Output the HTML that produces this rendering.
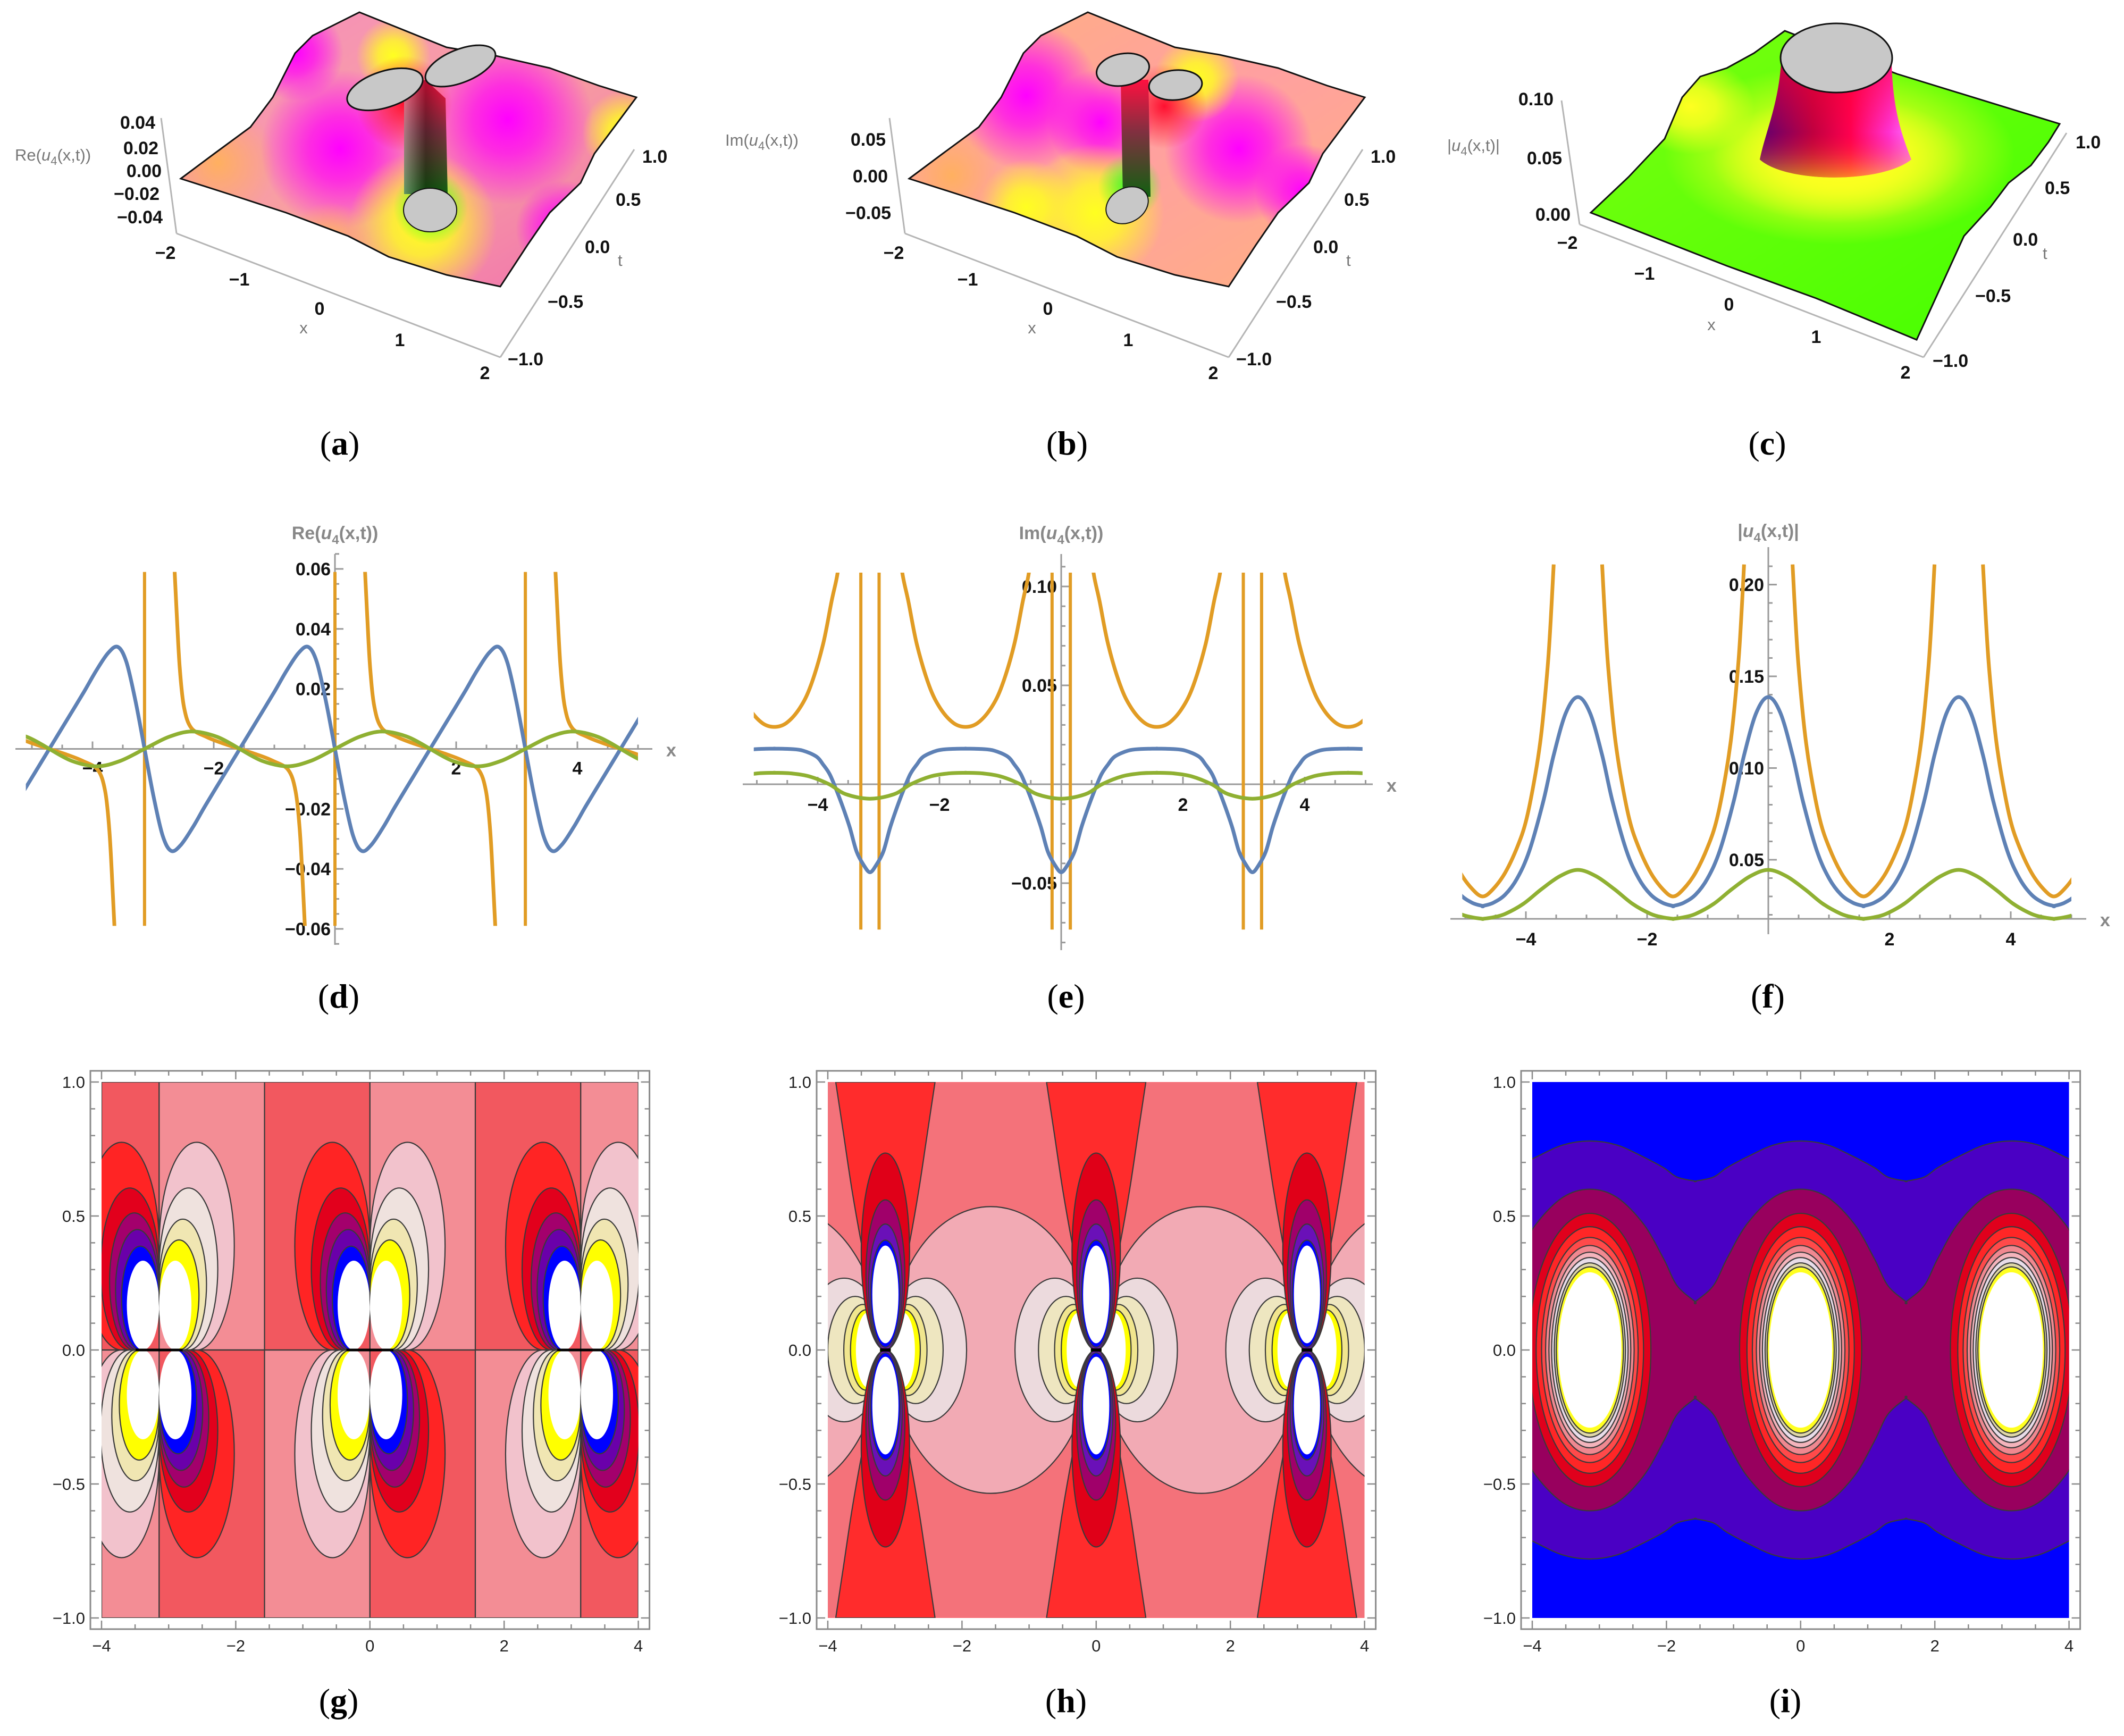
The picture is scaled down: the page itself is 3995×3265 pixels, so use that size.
<!DOCTYPE html>
<html><head><meta charset="utf-8"><title>u4 figure</title>
<style>html,body{margin:0;padding:0;background:#fff}svg{display:block}</style></head>
<body>
<svg id="fig" xmlns="http://www.w3.org/2000/svg" width="3995" height="3265" viewBox="0 0 3995 3265" font-family="'Liberation Sans', sans-serif">
<defs>
 <linearGradient id="aBase" x1="0" y1="0" x2="1" y2="1"><stop offset="0" stop-color="#f58cc0"/><stop offset="0.5" stop-color="#f8a0a0"/><stop offset="1" stop-color="#f070b0"/></linearGradient>
 <radialGradient id="gMag"><stop offset="0" stop-color="#ff00ff"/><stop offset="0.4" stop-color="#ff10f0" stop-opacity="0.8"/><stop offset="1" stop-color="#ff00ff" stop-opacity="0"/></radialGradient>
 <radialGradient id="gYel"><stop offset="0" stop-color="#ffff20"/><stop offset="0.4" stop-color="#ffff20" stop-opacity="0.8"/><stop offset="1" stop-color="#ffff20" stop-opacity="0"/></radialGradient>
 <radialGradient id="gRed"><stop offset="0" stop-color="#ff1030"/><stop offset="1" stop-color="#ff1030" stop-opacity="0"/></radialGradient>
 <radialGradient id="gOra"><stop offset="0" stop-color="#ffb060"/><stop offset="1" stop-color="#ffb060" stop-opacity="0"/></radialGradient>
 <radialGradient id="gGrn"><stop offset="0" stop-color="#30ff20"/><stop offset="1" stop-color="#30ff20" stop-opacity="0"/></radialGradient>
 <linearGradient id="stemA" x1="0" y1="0" x2="0" y2="1"><stop offset="0" stop-color="#ff1040"/><stop offset="0.45" stop-color="#803040"/><stop offset="1" stop-color="#106010"/></linearGradient>
 <linearGradient id="stemA2" x1="0" y1="0" x2="1" y2="0"><stop offset="0" stop-color="#ffffff" stop-opacity="0.35"/><stop offset="0.5" stop-color="#000" stop-opacity="0.3"/><stop offset="1" stop-color="#000" stop-opacity="0"/></linearGradient>
 <linearGradient id="bBase" x1="0" y1="0" x2="1" y2="1"><stop offset="0" stop-color="#ffb080"/><stop offset="0.5" stop-color="#ffa0a0"/><stop offset="1" stop-color="#ffb080"/></linearGradient>
 <linearGradient id="cBase" x1="0" y1="0" x2="1" y2="1"><stop offset="0" stop-color="#7aff10"/><stop offset="1" stop-color="#44ff00"/></linearGradient>
 <linearGradient id="cStem" x1="0" y1="0" x2="1" y2="0"><stop offset="0" stop-color="#600070"/><stop offset="0.35" stop-color="#c00040"/><stop offset="0.6" stop-color="#ff0050"/><stop offset="0.85" stop-color="#ff30d0"/><stop offset="1" stop-color="#ff70ff"/></linearGradient>
 <linearGradient id="cStemV" x1="0" y1="0" x2="0" y2="1"><stop offset="0" stop-color="#ff0030" stop-opacity="0.6"/><stop offset="0.6" stop-color="#ff0030" stop-opacity="0"/><stop offset="1" stop-color="#ffff00" stop-opacity="0.5"/></linearGradient>
</defs>

<!-- ============ Panel a ============ -->
<g>
 <clipPath id="clipA"><path d="M340,336 L403,289 L471,239 L513,183 L555,100 L588,67 L676,23 L840,89 L924,103 L1034,128 L1126,161 L1197,183 L1168,222 L1118,289 L1092,344 L1034,400 L992,461 L941,539 L840,517 L731,483 L655,444 L538,400 L437,367 Z"/></clipPath>
 <path d="M340,336 L403,289 L471,239 L513,183 L555,100 L588,67 L676,23 L840,89 L924,103 L1034,128 L1126,161 L1197,183 L1168,222 L1118,289 L1092,344 L1034,400 L992,461 L941,539 L840,517 L731,483 L655,444 L538,400 L437,367 Z" fill="url(#aBase)"/>
 <g clip-path="url(#clipA)">
  <circle cx="410" cy="306" r="110" fill="url(#gOra)"/>
  <circle cx="640" cy="280" r="150" fill="url(#gMag)"/>
  <circle cx="955" cy="225" r="160" fill="url(#gMag)"/>
  <circle cx="556" cy="100" r="90" fill="url(#gMag)"/>
  <circle cx="1060" cy="430" r="90" fill="url(#gMag)"/>
  <circle cx="795" cy="425" r="140" fill="url(#gYel)"/>
  <circle cx="1175" cy="250" r="80" fill="url(#gYel)"/>
  <circle cx="740" cy="105" r="70" fill="url(#gYel)"/>
  <circle cx="760" cy="195" r="90" fill="url(#gRed)"/>
  <circle cx="810" cy="390" r="70" fill="url(#gGrn)"/>
  <circle cx="620" cy="460" r="80" fill="url(#gOra)"/>
 </g>
 <path d="M340,336 L403,289 L471,239 L513,183 L555,100 L588,67 L676,23 L840,89 L924,103 L1034,128 L1126,161 L1197,183 L1168,222 L1118,289 L1092,344 L1034,400 L992,461 L941,539 L840,517 L731,483 L655,444 L538,400 L437,367 Z" fill="none" stroke="#111" stroke-width="3"/>
 <path d="M760,165 L800,150 L838,185 L842,365 L760,365 Z" fill="url(#stemA)"/>
 <path d="M760,165 L800,150 L838,185 L842,365 L760,365 Z" fill="url(#stemA2)"/>
 <ellipse cx="724" cy="168" rx="74" ry="34" transform="rotate(-18 724 168)" fill="#c8c8c8" stroke="#111" stroke-width="3"/>
 <ellipse cx="866" cy="124" rx="70" ry="31" transform="rotate(-22 866 124)" fill="#c8c8c8" stroke="#111" stroke-width="3"/>
 <ellipse cx="809" cy="395" rx="50" ry="41" fill="#c8c8c8" stroke="#111" stroke-width="2"/>
 <g stroke="#b5b5b5" stroke-width="3" fill="none">
  <line x1="303" y1="222" x2="332" y2="439"/><line x1="332" y1="439" x2="941" y2="672"/><line x1="941" y1="672" x2="1193" y2="281"/>
 </g>
 <g font-weight="bold" font-size="34" fill="#111" text-anchor="end">
  <text x="292" y="242">0.04</text>
  <text x="298" y="290">0.02</text>
  <text x="304" y="333">0.00</text>
  <text x="300" y="376">−0.02</text>
  <text x="306" y="420">−0.04</text>
 </g>
 <g font-weight="bold" font-size="34" fill="#111" text-anchor="middle">
  <text x="311" y="487">−2</text>
  <text x="450" y="537">−1</text>
  <text x="601" y="592">0</text>
  <text x="752" y="651">1</text>
  <text x="912" y="713">2</text>
 </g>
 <g font-weight="bold" font-size="34" fill="#111" text-anchor="start">
  <text x="1208" y="306">1.0</text>
  <text x="1158" y="387">0.5</text>
  <text x="1100" y="476">0.0</text>
  <text x="1030" y="579">−0.5</text>
  <text x="955" y="687">−1.0</text>
 </g>
 <text x="28" y="302" font-size="31" fill="#777">Re(<tspan font-style="italic">u</tspan><tspan font-size="22" dy="8">4</tspan><tspan dy="-8">(x,t))</tspan></text>
 <text x="571" y="627" font-size="31" fill="#777" text-anchor="middle">x</text>
 <text x="1162" y="500" font-size="31" fill="#777">t</text>
</g>

<!-- ============ Panel b ============ -->
<g transform="translate(1370,0)">
 <clipPath id="clipB"><path d="M340,336 L403,289 L471,239 L513,183 L555,100 L588,67 L676,23 L840,89 L924,103 L1034,128 L1126,161 L1197,183 L1168,222 L1118,289 L1092,344 L1034,400 L992,461 L941,539 L840,517 L731,483 L655,444 L538,400 L437,367 Z"/></clipPath>
 <path d="M340,336 L403,289 L471,239 L513,183 L555,100 L588,67 L676,23 L840,89 L924,103 L1034,128 L1126,161 L1197,183 L1168,222 L1118,289 L1092,344 L1034,400 L992,461 L941,539 L840,517 L731,483 L655,444 L538,400 L437,367 Z" fill="url(#bBase)"/>
 <g clip-path="url(#clipB)">
  <circle cx="560" cy="180" r="140" fill="url(#gMag)"/>
  <circle cx="700" cy="230" r="100" fill="url(#gMag)"/>
  <circle cx="960" cy="280" r="140" fill="url(#gMag)"/>
  <circle cx="1080" cy="360" r="90" fill="url(#gMag)"/>
  <circle cx="690" cy="400" r="130" fill="url(#gYel)"/>
  <circle cx="560" cy="390" r="90" fill="url(#gYel)"/>
  <circle cx="880" cy="150" r="80" fill="url(#gYel)"/>
  <circle cx="820" cy="200" r="80" fill="url(#gRed)"/>
  <circle cx="755" cy="350" r="60" fill="url(#gGrn)"/>
  <circle cx="420" cy="330" r="90" fill="url(#gOra)"/>
 </g>
 <path d="M340,336 L403,289 L471,239 L513,183 L555,100 L588,67 L676,23 L840,89 L924,103 L1034,128 L1126,161 L1197,183 L1168,222 L1118,289 L1092,344 L1034,400 L992,461 L941,539 L840,517 L731,483 L655,444 L538,400 L437,367 Z" fill="none" stroke="#111" stroke-width="3"/>
 <path d="M738,150 L790,150 L794,370 L742,370 Z" fill="url(#stemA)"/>
 <ellipse cx="742" cy="131" rx="50" ry="30" transform="rotate(-10 742 131)" fill="#c8c8c8" stroke="#111" stroke-width="3"/>
 <ellipse cx="841" cy="160" rx="50" ry="28" transform="rotate(-5 841 160)" fill="#c8c8c8" stroke="#111" stroke-width="3"/>
 <ellipse cx="750" cy="386" rx="42" ry="32" transform="rotate(-30 750 386)" fill="#c8c8c8" stroke="#111" stroke-width="2"/>
 <g stroke="#b5b5b5" stroke-width="3" fill="none">
  <line x1="303" y1="222" x2="332" y2="439"/><line x1="332" y1="439" x2="941" y2="672"/><line x1="941" y1="672" x2="1193" y2="281"/>
 </g>
 <g font-weight="bold" font-size="34" fill="#111" text-anchor="end">
  <text x="296" y="274">0.05</text>
  <text x="300" y="343">0.00</text>
  <text x="306" y="412">−0.05</text>
 </g>
 <g font-weight="bold" font-size="34" fill="#111" text-anchor="middle">
  <text x="311" y="487">−2</text>
  <text x="450" y="537">−1</text>
  <text x="601" y="592">0</text>
  <text x="752" y="651">1</text>
  <text x="912" y="713">2</text>
 </g>
 <g font-weight="bold" font-size="34" fill="#111">
  <text x="1208" y="306">1.0</text>
  <text x="1158" y="387">0.5</text>
  <text x="1100" y="476">0.0</text>
  <text x="1030" y="579">−0.5</text>
  <text x="955" y="687">−1.0</text>
 </g>
 <text x="-6" y="274" font-size="31" fill="#777">Im(<tspan font-style="italic">u</tspan><tspan font-size="22" dy="8">4</tspan><tspan dy="-8">(x,t))</tspan></text>
 <text x="571" y="627" font-size="31" fill="#777" text-anchor="middle">x</text>
 <text x="1162" y="500" font-size="31" fill="#777">t</text>
</g>

<!-- ============ Panel c ============ -->
<g transform="translate(2660,0)">
 <clipPath id="clipC"><path d="M332,400 L403,333 L471,261 L504,183 L538,144 L588,128 L639,100 L697,58 L908,139 L1214,233 L1193,267 L1160,311 L1118,344 L1084,389 L1034,444 L945,639 L756,561 L588,500 Z"/></clipPath>
 <path d="M332,400 L403,333 L471,261 L504,183 L538,144 L588,128 L639,100 L697,58 L908,139 L1214,233 L1193,267 L1160,311 L1118,344 L1084,389 L1034,444 L945,639 L756,561 L588,500 Z" fill="url(#cBase)"/>
 <g clip-path="url(#clipC)">
  <ellipse cx="800" cy="290" rx="330" ry="170" fill="url(#gYel)"/>
  <ellipse cx="800" cy="300" rx="240" ry="120" fill="url(#gYel)"/>
  <ellipse cx="520" cy="200" rx="120" ry="90" fill="url(#gYel)"/>
 </g>
 <path d="M332,400 L403,333 L471,261 L504,183 L538,144 L588,128 L639,100 L697,58 L908,139 L1214,233 L1193,267 L1160,311 L1118,344 L1084,389 L1034,444 L945,639 L756,561 L588,500 Z" fill="none" stroke="#111" stroke-width="3"/>
 <path d="M690,120 C684,200 660,250 650,300 C700,345 880,345 935,300 C915,250 900,200 898,120 Z" fill="url(#cStem)"/>
 <path d="M690,120 C684,200 660,250 650,300 C700,345 880,345 935,300 C915,250 900,200 898,120 Z" fill="url(#cStemV)"/>
 <ellipse cx="794" cy="109" rx="105" ry="65" fill="#c8c8c8" stroke="#111" stroke-width="3"/>
 <g stroke="#b5b5b5" stroke-width="3" fill="none">
  <line x1="277" y1="189" x2="311" y2="422"/><line x1="311" y1="422" x2="958" y2="672"/><line x1="958" y1="672" x2="1227" y2="250"/>
 </g>
 <g font-weight="bold" font-size="34" fill="#111" text-anchor="end">
  <text x="262" y="198">0.10</text>
  <text x="278" y="309">0.05</text>
  <text x="294" y="415">0.00</text>
 </g>
 <g font-weight="bold" font-size="34" fill="#111" text-anchor="middle">
  <text x="288" y="468">−2</text>
  <text x="433" y="526">−1</text>
  <text x="592" y="584">0</text>
  <text x="756" y="645">1</text>
  <text x="924" y="712">2</text>
 </g>
 <g font-weight="bold" font-size="34" fill="#111">
  <text x="1244" y="279">1.0</text>
  <text x="1186" y="365">0.5</text>
  <text x="1126" y="462">0.0</text>
  <text x="1055" y="568">−0.5</text>
  <text x="975" y="690">−1.0</text>
 </g>
 <text x="62" y="284" font-size="31" fill="#777">|<tspan font-style="italic">u</tspan><tspan font-size="22" dy="8">4</tspan><tspan dy="-8">(x,t)|</tspan></text>
 <text x="559" y="621" font-size="31" fill="#777" text-anchor="middle">x</text>
 <text x="1182" y="487" font-size="31" fill="#777">t</text>
</g>

<!-- captions -->
<g font-family="'Liberation Serif', serif" font-size="64" fill="#000" text-anchor="middle">
 <text x="639" y="855">(<tspan font-weight="bold">a</tspan>)</text>
 <text x="2007" y="855">(<tspan font-weight="bold">b</tspan>)</text>
 <text x="3324" y="855">(<tspan font-weight="bold">c</tspan>)</text>
 <text x="637" y="1895">(<tspan font-weight="bold">d</tspan>)</text>
 <text x="2005" y="1895">(<tspan font-weight="bold">e</tspan>)</text>
 <text x="3325" y="1895">(<tspan font-weight="bold">f</tspan>)</text>
 <text x="637" y="3220">(<tspan font-weight="bold">g</tspan>)</text>
 <text x="2005" y="3220">(<tspan font-weight="bold">h</tspan>)</text>
 <text x="3358" y="3220">(<tspan font-weight="bold">i</tspan>)</text>
</g>
</svg>

<script>
// ---------------- data ----------------
const PI = Math.PI;
const periodCenters = [-2*PI, -PI, 0, PI, 2*PI];
const halfCenters = [-3*PI/2, -PI/2, PI/2, 3*PI/2];

// (d) Re
const reBlueOffs = [-1.571,-1.3,-1.0,-0.8,-0.6,-0.44,-0.3,-0.15,0,0.15,0.3,0.44,0.6,0.8,1.0,1.3,1.571];
const reBlueVals = [0,0.009,0.019,0.026,0.032,0.034,0.029,0.016,0,-0.016,-0.029,-0.034,-0.032,-0.026,-0.019,-0.009,0];
const reGreenOffs = [-1.571,-1.2,-0.785,-0.4,0,0.4,0.785,1.2,1.571];
const reGreenVals = [0,-0.004,-0.0058,-0.004,0,0.004,0.0058,0.004,0];
const reOrangeOffs = [-1.1,-1.04,-0.99,-0.92,-0.8,-0.55,-0.3,0,0.3,0.55,0.8,0.92,0.99,1.04,1.1];
const reOrangeVals = [0.07,0.045,0.027,0.014,0.007,0.004,0.002,0,-0.002,-0.004,-0.007,-0.014,-0.027,-0.045,-0.07];
const rePoles = [-PI, 0, PI];
const reYTicks = [0.06,0.04,0.02,-0.02,-0.04,-0.06];
const reYTickLabels = ['0.06','0.04','0.02','−0.02','−0.04','−0.06'];

// (e) Im
const imBlueOffs = [-1.571,-1.3,-1.1,-0.88,-0.77,-0.66,-0.55,-0.44,-0.33,-0.22,-0.1,0,0.1,0.22,0.33,0.44,0.55,0.66,0.77,0.88,1.1,1.3,1.571];
const imBlueVals = [0.018,0.0178,0.017,0.014,0.010,0.005,-0.003,-0.012,-0.022,-0.034,-0.041,-0.0445,-0.041,-0.034,-0.022,-0.012,-0.003,0.005,0.010,0.014,0.017,0.0178,0.018];
const imGreenOffs = [-1.571,-1.3,-1.0,-0.67,-0.4,0,0.4,0.67,1.0,1.3,1.571];
const imGreenVals = [0.0058,0.0055,0.004,0,-0.005,-0.0073,-0.005,0,0.004,0.0055,0.0058];
const imOrangeOffs = [-1.1,-1.04,-0.94,-0.8,-0.6,-0.42,-0.2,0,0.2,0.42,0.6,0.8,0.94,1.04,1.1];
const imOrangeVals = [0.125,0.107,0.0925,0.0707,0.05,0.0386,0.031,0.029,0.031,0.0386,0.05,0.0707,0.0925,0.107,0.125];
const imPoles = [-PI-0.15, -PI+0.15, -0.15, 0.15, PI-0.15, PI+0.15];
const imYTicks = [0.10,0.05,-0.05];
const imYTickLabels = ['0.10','0.05','−0.05'];

// (f) Abs
const abBlueOffs = [-1.571,-1.4,-1.2,-1.0,-0.8,-0.57,-0.4,-0.2,0,0.2,0.4,0.57,0.8,1.0,1.2,1.4,1.571];
const abBlueVals = [0.0248,0.0265,0.031,0.04,0.055,0.082,0.107,0.13,0.1387,0.13,0.107,0.082,0.055,0.04,0.031,0.0265,0.0248];
const abGreenOffs = [-1.571,-1.4,-1.2,-0.9,-0.6,-0.3,0,0.3,0.6,0.9,1.2,1.4,1.571];
const abGreenVals = [0.0178,0.0186,0.0205,0.026,0.034,0.041,0.0445,0.041,0.034,0.026,0.0205,0.0186,0.0178];
const abOrangeOffs = [-1.171,-1.121,-1.071,-0.971,-0.871,-0.721,-0.571,-0.371,-0.171,0,0.171,0.371,0.571,0.721,0.871,0.971,1.071,1.121,1.171];
const abOrangeVals = [0.211,0.18,0.155,0.12,0.097,0.072,0.057,0.043,0.034,0.030,0.034,0.043,0.057,0.072,0.097,0.12,0.155,0.18,0.211];
const abYTicks = [0.20,0.15,0.10,0.05];
const abYTickLabels = ['0.20','0.15','0.10','0.05'];

const xTicks = [-4,-2,2,4];
const xTickLabels = ['−4','−2','2','4'];

// contour data
const contourXTicks = [-4,-2,0,2,4];
const contourXTickLabels = ['−4','−2','0','2','4'];
const contourYTicks = [1,0.5,0,-0.5,-1];
const contourYTickLabels = ['1.0','0.5','0.0','−0.5','−1.0'];
const lobeCenters = [-PI, 0, PI];
// (g)
const gStripeEdges = [-4,-PI,-PI/2,0,PI/2,PI,4];
const gTopColors = ['#f2585f','#f38d95','#f2585f','#f38d95','#f2585f','#f38d95'];
const gBotColors = ['#f38d95','#f2585f','#f38d95','#f2585f','#f38d95','#f2585f'];
const gBlueSizes = [1,0.78,0.66,0.58,0.5,0.43];
const gBlueColors = ['#ff2424','#e2001c','#a3006c','#6a00aa','#0000ff','#ffffff'];
const gYelSizes = [1,0.78,0.63,0.53,0.43];
const gYelColors = ['#f2c2cc','#efe2de','#f0e6b2','#ffff00','#ffffff'];
const gLobeW = 1.12, gLobeH = 0.775;
// (h)
const hRedY = [1,0.8,0.6,0.4,0.2,0,-0.2,-0.4,-0.6,-0.8,-1];
const hRedDX = [0.74,0.62,0.5,0.36,0.2,0.05,0.2,0.36,0.5,0.62,0.74];
const hPinkCenters = [-3*PI/2,-PI/2,PI/2,3*PI/2];
const hPinkRx = 1.5, hPinkRy = 0.535;
const hSideX0 = [0.02,0.04,0.05,0.06,0.08];
const hSideX1 = [1.21,0.86,0.62,0.52,0.44];
const hSideRy = [0.268,0.2,0.17,0.15,0.14];
const hSideColors = ['#ecdadd','#eee6c0','#f1e68e','#ffff00','#ffffff'];
const hVertSx = [0.36,0.29,0.25,0.22,0.195];
const hVertY0 = [0,0,0,0.01,0.025];
const hVertY1 = [0.735,0.56,0.47,0.41,0.39];
const hVertColors = ['#e00018','#a0006a','#6a10b8','#0000ff','#ffffff'];
// (i)
const iBandOffs = [-1.571,-1.3,-1.1,-0.8,-0.4,0,0.4,0.8,1.1,1.3,1.571];
const iPurpleTop = [0.63,0.645,0.68,0.72,0.765,0.78,0.765,0.72,0.68,0.645,0.63];
const iMagentaTop = [0.18,0.24,0.34,0.47,0.57,0.60,0.57,0.47,0.34,0.24,0.18];
const iRingSx = [0.91,0.80,0.72,0.66,0.61,0.57,0.53,0.50,0.47];
const iRingSy = [0.51,0.46,0.42,0.39,0.365,0.345,0.325,0.31,0.29];
const iRingColors = ['#e0001c','#ff2626','#ff4a4a','#f08890','#f4b4bc','#e8dce8','#e0d8a8','#ffff20','#ffffff'];

// ---------------- helpers ----------------
const NS = 'http://www.w3.org/2000/svg';
const svg = document.getElementById('fig');
function mk(tag, attrs, parent){ const e=document.createElementNS(NS,tag); for(const k in attrs) e.setAttribute(k, attrs[k]); (parent||svg).appendChild(e); return e; }
function smooth(pts){
  if(pts.length<2) return '';
  let d='M'+pts[0][0].toFixed(1)+','+pts[0][1].toFixed(1);
  for(let i=0;i<pts.length-1;i++){
    const p0=pts[i-1]||pts[i], p1=pts[i], p2=pts[i+1], p3=pts[i+2]||p2;
    const c1=[p1[0]+(p2[0]-p0[0])/6, p1[1]+(p2[1]-p0[1])/6];
    const c2=[p2[0]-(p3[0]-p1[0])/6, p2[1]-(p3[1]-p1[1])/6];
    d+='C'+c1[0].toFixed(1)+','+c1[1].toFixed(1)+' '+c2[0].toFixed(1)+','+c2[1].toFixed(1)+' '+p2[0].toFixed(1)+','+p2[1].toFixed(1);
  }
  return d;
}
function tile(centers, offs, vals){
  const pts=[];
  centers.forEach(c=>offs.forEach((o,i)=>{ const x=c+o; if(pts.length && Math.abs(pts[pts.length-1][0]-x)<1e-6) return; pts.push([x, vals[i]]); }));
  return pts;
}
const COL = {blue:'#5e81b5', orange:'#e19c24', green:'#8fb032'};

function plot2d(cfg){
  const g = mk('g', {});
  
  
  const X = u => cfg.x0 + cfg.sx*u, Y = v => cfg.y0 - cfg.sy*v;
  const cid = cfg.name+'-clip';
  const cp = mk('clipPath', {id:cid}, g);
  mk('rect', {x:X(cfg.xmin), y:Y(cfg.clipTop), width:X(cfg.xmax)-X(cfg.xmin), height:Y(cfg.clipBot)-Y(cfg.clipTop)}, cp);
  const ax = mk('g', {stroke:'#9a9a9a','stroke-width':3}, g);
  const xl = mk('line', {x1:cfg.axL, y1:Y(cfg.axisV), x2:cfg.axR, y2:Y(cfg.axisV)}, ax);
  
  
  const yl = mk('line', {x1:X(0), y1:cfg.axT, x2:X(0), y2:cfg.axB}, ax);
  
  
  for(let u=-5; u<=5.001; u+=0.5){
    const major = Math.abs(u%2)<1e-6 && u!==0;
    const len = major?14:8;
    const t = mk('line', {x1:X(u), y1:Y(cfg.axisV), x2:X(u), y2:Y(cfg.axisV)-len}, ax);
    
    
  }
  for(let v=cfg.minorStart; v<=cfg.minorEnd+1e-9; v+=cfg.minorStep){
    const t = mk('line', {x1:X(0), y1:Y(v), x2:X(0)+8, y2:Y(v)}, ax);
    
    
  }
  cfg.yTicks.forEach((v,i)=>{
    const t = mk('line', {x1:X(0), y1:Y(v), x2:X(0)+16, y2:Y(v)}, ax);
    
    
    const tx = mk('text', {x:X(0)-8, y:Y(v)+12, 'text-anchor':'end', 'font-size':34, 'font-weight':'bold', fill:'#111'}, g);
    
    
    tx.textContent = cfg.yTickLabels[i];
  });
  xTicks.forEach((u,i)=>{
    const tx = mk('text', {x:X(u), y:Y(cfg.axisV)+cfg.xLabDy, 'text-anchor':'middle', 'font-size':34, 'font-weight':'bold', fill:'#111'}, g);
    
    
    tx.textContent = xTickLabels[i];
  });
  const xt = mk('text', {x:cfg.axR+26, y:Y(cfg.axisV)+14, 'font-size':34, 'font-weight':'bold', fill:'#888'}, g);
  
  
  xt.textContent = 'x';
  const yt = mk('text', {x:X(0), y:cfg.titleY, 'text-anchor':'middle', 'font-size':34, 'font-weight':'bold', fill:'#888'}, g);
  
  
  yt.innerHTML = cfg.titleHTML;
  const sg = mk('g', {'clip-path':'url(#'+cid+')', fill:'none', 'stroke-width':7, 'stroke-linejoin':'round'}, g);
  cfg.series.forEach(s=>{
    if(s.kind==='tile'){
      const pts = tile(s.centers, s.offs, s.vals).map(p=>[X(p[0]), Y(p[1])]);
      const p = mk('path', {d:smooth(pts), stroke:s.color}, sg);
      
      
    } else if(s.kind==='branches'){
      s.centers.forEach(c=>{
        const pts = s.offs.map((o,i)=>[X(c+o), Y(s.vals[i])]);
        const p = mk('path', {d:smooth(pts), stroke:s.color}, sg);
        
        
      });
    } else if(s.kind==='poles'){
      s.xs.forEach(x=>{
        const l = mk('line', {x1:X(x), y1:Y(cfg.clipTop), x2:X(x), y2:Y(cfg.clipBot), stroke:s.color, 'stroke-width':6}, sg);
        
        
      });
    }
  });
}

const T = (p)=>p+'(<tspan font-style="italic">u</tspan><tspan font-size="24" dy="9">4</tspan><tspan dy="-9">(x,t))</tspan>';

plot2d({name:'plot-d-re', x0:630, sx:114, y0:1408.5, sy:5642, xmin:-5.1, xmax:5.0, clipTop:0.059, clipBot:-0.059,
  axisV:0, axL:29, axR:1227, axT:1042, axB:1777, minorStart:-0.065, minorEnd:0.065, minorStep:0.005,
  yTicks:reYTicks, yTickLabels:reYTickLabels, xLabDy:48, titleY:1014, titleHTML:T('Re'),
  series:[
    {kind:'branches', name:'re-orange-curve', centers:halfCenters, offs:reOrangeOffs, vals:reOrangeVals, color:COL.orange},
    {kind:'poles', name:'re-orange-jump', xs:rePoles, color:COL.orange},
    {kind:'tile', name:'re-blue-curve', centers:periodCenters, offs:reBlueOffs, vals:reBlueVals, color:COL.blue},
    {kind:'tile', name:'re-green-curve', centers:periodCenters, offs:reGreenOffs, vals:reGreenVals, color:COL.green}
  ]});
plot2d({name:'plot-e-im', x0:1996, sx:114.5, y0:1475, sy:3720, xmin:-5.05, xmax:4.95, clipTop:0.107, clipBot:-0.0735,
  axisV:0, axL:1397, axR:2582, axT:1042, axB:1787, minorStart:-0.08, minorEnd:0.11, minorStep:0.01,
  yTicks:imYTicks, yTickLabels:imYTickLabels, xLabDy:50, titleY:1014, titleHTML:T('Im'),
  series:[
    {kind:'branches', name:'im-orange-curve', centers:halfCenters, offs:imOrangeOffs, vals:imOrangeVals, color:COL.orange},
    {kind:'poles', name:'im-orange-jump', xs:imPoles, color:COL.orange},
    {kind:'tile', name:'im-blue-curve', centers:periodCenters, offs:imBlueOffs, vals:imBlueVals, color:COL.blue},
    {kind:'tile', name:'im-green-curve', centers:periodCenters, offs:imGreenOffs, vals:imGreenVals, color:COL.green}
  ]});
plot2d({name:'plot-f-abs', x0:3326, sx:114, y0:1789.5, sy:3450, xmin:-5.05, xmax:5.0, clipTop:0.211, clipBot:0.0,
  axisV:0.0178, axL:2728, axR:3924, axT:1029, axB:1757, minorStart:0.02, minorEnd:0.21, minorStep:0.01,
  yTicks:abYTicks, yTickLabels:abYTickLabels, xLabDy:50, titleY:1010, titleHTML:'|<tspan font-style="italic">u</tspan><tspan font-size="24" dy="9">4</tspan><tspan dy="-9">(x,t)|</tspan>',
  series:[
    {kind:'branches', name:'abs-orange-curve', centers:[-2*PI,-PI,0,PI,2*PI].map(c=>c+PI/2), offs:abOrangeOffs, vals:abOrangeVals, color:COL.orange},
    {kind:'tile', name:'abs-blue-curve', centers:periodCenters, offs:abBlueOffs, vals:abBlueVals, color:COL.blue},
    {kind:'tile', name:'abs-green-curve', centers:periodCenters, offs:abGreenOffs, vals:abGreenVals, color:COL.green}
  ]});

// ---------- contour helpers ----------
function contourFrame(name, x0){
  const sx=126.2, sy=504;
  const X=u=>x0+(u+4)*sx, Y=v=>2539-v*sy;
  const g = mk('g', {});
  
  
  const cid=name+'-clip';
  const cp=mk('clipPath',{id:cid},g);
  mk('rect',{x:X(-4),y:Y(1),width:X(4)-X(-4),height:Y(-1)-Y(1)},cp);
  const body=mk('g',{'clip-path':'url(#'+cid+')', stroke:'#3a3a3a','stroke-width':2.2},g);
  return {g, body, X, Y, sx, sy};
}
function contourAxes(c){
  const {g,X,Y}=c;
  const L=X(-4)-21, R=X(4)+21, Tp=Y(1)-21, B=Y(-1)+21;
  const fr=mk('rect',{x:L,y:Tp,width:R-L,height:B-Tp,fill:'none',stroke:'#8a8a8a','stroke-width':3},g);
  
  
  const tk=mk('g',{stroke:'#8a8a8a','stroke-width':2.5},g);
  for(let u=-4;u<=4.001;u+=0.5){
    const len=(Math.abs(u%2)<1e-6)?16:9;
    mk('line',{x1:X(u),y1:B,x2:X(u),y2:B-len},tk);
    mk('line',{x1:X(u),y1:Tp,x2:X(u),y2:Tp+len},tk);
  }
  for(let k=-10;k<=10;k++){
    const v=k/10, len=(k%5===0)?16:9;
    mk('line',{x1:L,y1:Y(v),x2:L+len,y2:Y(v)},tk);
    mk('line',{x1:R,y1:Y(v),x2:R-len,y2:Y(v)},tk);
  }
  contourXTicks.forEach((u,i)=>{
    const t=mk('text',{x:X(u),y:B+42,'text-anchor':'middle','font-size':31,fill:'#222'},g);
    
    
    t.textContent=contourXTickLabels[i];
  });
  contourYTicks.forEach((v,i)=>{
    const t=mk('text',{x:L-10,y:Y(v)+11,'text-anchor':'end','font-size':31,fill:'#222'},g);
    
    
    t.textContent=contourYTickLabels[i];
  });
}
function ell(c, cx, cy, rx, ry, fill, name){
  const e=mk('ellipse',{cx:c.X(cx),cy:c.Y(cy),rx:rx*c.sx,ry:ry*c.sy,fill:fill},c.body);
  
  
  if(fill==='#ffffff') e.setAttribute('stroke','none');
  return e;
}

// ---------- (g) ----------
const cg = contourFrame('contour-g-re', 191);
for(let i=0;i<gTopColors.length;i++){
  const a=gStripeEdges[i], b=gStripeEdges[i+1];
  const r1=mk('rect',{x:cg.X(a),y:cg.Y(1),width:cg.X(b)-cg.X(a),height:cg.Y(0)-cg.Y(1),fill:gTopColors[i]},cg.body);
  
  
  const r2=mk('rect',{x:cg.X(a),y:cg.Y(0),width:cg.X(b)-cg.X(a),height:cg.Y(-1)-cg.Y(0),fill:gBotColors[i]},cg.body);
  
  
}
const gl=mk('line',{x1:cg.X(-4),y1:cg.Y(0),x2:cg.X(4),y2:cg.Y(0)},cg.body);


lobeCenters.forEach(c=>{
  const quads=[[-1,1,'b'],[1,1,'y'],[-1,-1,'y'],[1,-1,'b']];
  quads.forEach(q=>{
    const sizes=q[2]==='b'?gBlueSizes:gYelSizes, cols=q[2]==='b'?gBlueColors:gYelColors;
    sizes.forEach((s,i)=>{
      ell(cg, c+q[0]*gLobeW*s/2, q[1]*gLobeH*s/2, gLobeW*s/2, gLobeH*s/2, cols[i], 'lobe-ring');
    });
  });
  const k=mk('line',{x1:cg.X(c-0.35),y1:cg.Y(0),x2:cg.X(c+0.35),y2:cg.Y(0),stroke:'#000','stroke-width':5},cg.body);
  
  
});
contourAxes(cg);

// ---------- (h) ----------
const ch = contourFrame('contour-h-im', 1557);
const hbg=mk('rect',{x:ch.X(-4),y:ch.Y(1),width:ch.X(4)-ch.X(-4),height:ch.Y(-1)-ch.Y(1),fill:'#f4727a',stroke:'none'},ch.body);


lobeCenters.forEach(c=>{
  const left=hRedY.map((y,i)=>[ch.X(c-hRedDX[i]),ch.Y(y)]);
  const right=hRedY.map((y,i)=>[ch.X(c+hRedDX[i]),ch.Y(y)]).reverse();
  const p=mk('path',{d:smooth(left)+' L'+right[0][0]+','+right[0][1]+' '+smooth(right).slice(1)+' Z',fill:'#ff2c2c'},ch.body);
  
  
});
hPinkCenters.forEach(c=>{ ell(ch, c, 0, hPinkRx, hPinkRy, '#f2aab4', 'pink-level'); });
lobeCenters.forEach(c=>{
  [-1,1].forEach(sd=>{
    hSideX0.forEach((x0,i)=>{
      const x1=hSideX1[i];
      ell(ch, c+sd*(x0+x1)/2, 0, (x1-x0)/2, hSideRy[i], hSideColors[i], 'side-lobe-ring');
    });
  });
  [-1,1].forEach(sd=>{
    hVertSx.forEach((sxv,i)=>{
      const y0=hVertY0[i], y1=hVertY1[i];
      ell(ch, c, sd*(y0+y1)/2, sxv, (y1-y0)/2, hVertColors[i], 'vertical-lobe-ring');
    });
  });
  const k=mk('line',{x1:ch.X(c-0.08),y1:ch.Y(0),x2:ch.X(c+0.08),y2:ch.Y(0),stroke:'#000','stroke-width':6},ch.body);
  
  
});
contourAxes(ch);

// ---------- (i) ----------
const ci = contourFrame('contour-i-abs', 2882);
const ibg=mk('rect',{x:ci.X(-4),y:ci.Y(1),width:ci.X(4)-ci.X(-4),height:ci.Y(-1)-ci.Y(1),fill:'#0000ff',stroke:'none'},ci.body);


function band(vals, fill, name){
  const top=tile(periodCenters, iBandOffs, vals).map(p=>[ci.X(p[0]),ci.Y(p[1])]);
  const bot=tile(periodCenters, iBandOffs, vals).map(p=>[ci.X(p[0]),ci.Y(-p[1])]).reverse();
  const p=mk('path',{d:smooth(top)+' L'+bot[0][0].toFixed(1)+','+bot[0][1].toFixed(1)+' '+smooth(bot).slice(1)+' Z',fill:fill},ci.body);
  
  
}
band(iPurpleTop,'#4a00c4','purple-level');
band(iMagentaTop,'#98005e','magenta-level');
lobeCenters.forEach(c=>{
  iRingSx.forEach((rx,i)=>{ ell(ci, c, 0, rx, iRingSy[i], iRingColors[i], 'peak-ring'); });
});
contourAxes(ci);
</script>
</body></html>
